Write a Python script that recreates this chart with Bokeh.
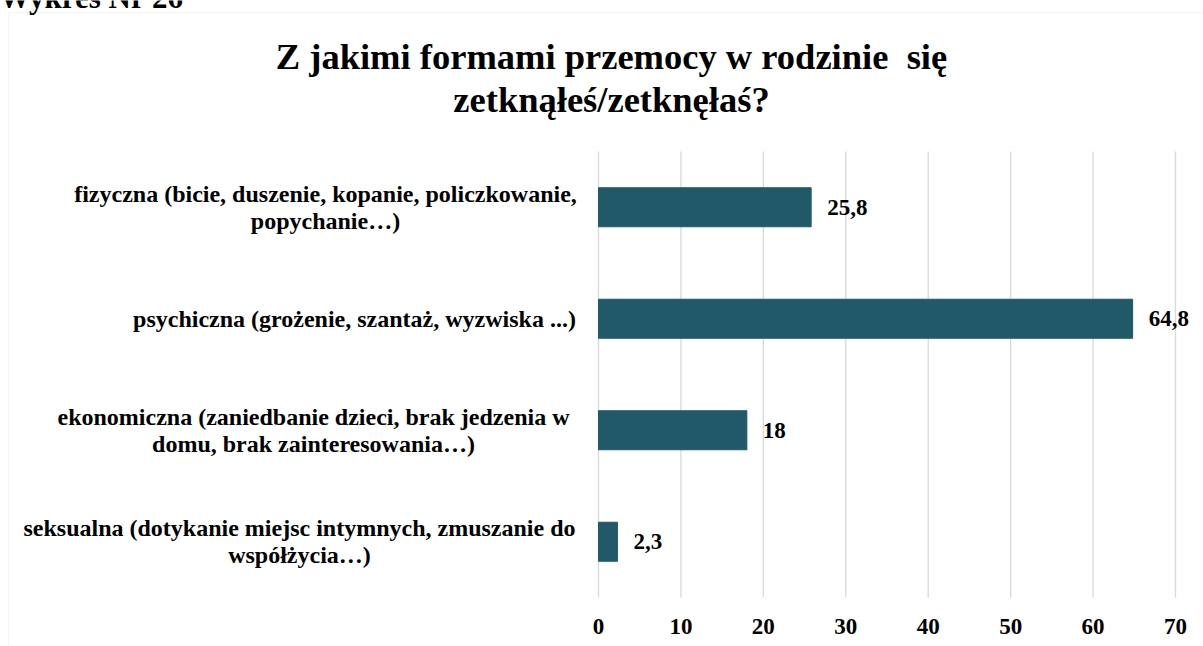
from bokeh.plotting import figure
from bokeh.models import (ColumnDataSource, Range1d, LabelSet, Label,
                          BoxAnnotation, FixedTicker)
from bokeh.embed import file_html
from bokeh.resources import INLINE

# ---------------- data ----------------
categories = [
    "fizyczna (bicie, duszenie, kopanie, policzkowanie,\npopychanie…)",
    "psychiczna (grożenie, szantaż, wyzwiska ...)",
    "ekonomiczna (zaniedbanie dzieci, brak jedzenia w\ndomu, brak zainteresowania…)",
    "seksualna (dotykanie miejsc intymnych, zmuszanie do\nwspółżycia…)",
]
values = [25.8, 64.8, 18.0, 2.3]
x_ticks = [0, 10, 20, 30, 40, 50, 60, 70]
title_lines = ["Z jakimi formami przemocy w rodzinie \u00a0się", "zetknąłeś/zetknęłaś?"]
caption = "Wykres Nr 26"

# ---------------- style / layout ----------------
BAR = "#215968"
GRID = "#d9d9d9"
FONT = "Liberation Serif"
W, H = 1203, 646
ZERO_PX = 598               # canvas x of value 0
PX_PER_UNIT = 577 / 70      # horizontal scale
BASE_PX = 597               # canvas y of the bottom of the category bands
BAND_PX = 111.5             # height of one category band
LINE_PX = 27                # line spacing of wrapped category labels
label_center_offsets = [-273, -244, -285, -299]  # px, centre of each wrapped label block

n = len(categories)
pos = [n - i - 0.5 for i in range(n)]

def fmt(v):
    return ("%g" % v).replace(".", ",")

src = ColumnDataSource(dict(pos=pos, val=values, txt=[fmt(v) for v in values]))

# one entry per wrapped line of the category labels
lt, ly, lx = [], [], []
for c, yc, off in zip(categories, pos, label_center_offsets):
    lines = c.split("\n")
    k = len(lines)
    for j, line in enumerate(lines):
        lt.append(line)
        ly.append(yc - (j - (k - 1) / 2) * LINE_PX / BAND_PX)
        lx.append(off)
lab_src = ColumnDataSource(dict(t=lt, y=ly, xoff=lx, x=[0] * len(lt)))

grid_src = ColumnDataSource(dict(x=x_ticks, y0=[0] * len(x_ticks), y1=[n] * len(x_ticks)))

p = figure(width=W, height=H,
           x_range=Range1d(-ZERO_PX / PX_PER_UNIT, (W - ZERO_PX) / PX_PER_UNIT),
           y_range=Range1d(-(H - BASE_PX) / BAND_PX, BASE_PX / BAND_PX),
           output_backend="svg", toolbar_location=None,
           y_axis_location=None,
           min_border_left=0, min_border_right=0,
           min_border_top=0, min_border_bottom=0)
p.outline_line_color = None
p.background_fill_color = "white"
p.border_fill_color = "white"
p.xgrid.visible = False
p.ygrid.visible = False

# chart-area border
p.add_layout(BoxAnnotation(left=8, right=3000, top=12, bottom=3000,
                           left_units="canvas", right_units="canvas",
                           top_units="canvas", bottom_units="canvas",
                           fill_alpha=0, line_color=GRID, line_width=1,
                           level="underlay"))

# vertical gridlines at the tick values, spanning the category bands
p.segment(x0="x", x1="x", y0="y0", y1="y1", source=grid_src,
          line_color=GRID, line_width=1.3)

p.hbar(y="pos", right="val", left=0, height=0.35, source=src,
       fill_color=BAR, line_color=BAR)

ax = p.xaxis[0]
ax.fixed_location = 0
ax.ticker = FixedTicker(ticks=x_ticks)
ax.axis_line_color = None
ax.major_tick_line_color = None
ax.minor_tick_line_color = None
ax.major_label_standoff = 15
ax.major_label_text_font = FONT
ax.major_label_text_font_style = "bold"
ax.major_label_text_font_size = "23px"
ax.major_label_text_color = "black"

# value labels
p.add_layout(LabelSet(x="val", y="pos", text="txt", source=src, x_offset=16,
                      text_align="left", text_baseline="middle",
                      text_font=FONT, text_font_style="bold",
                      text_font_size="23px", text_color="black"))

# category labels (wrapped, each line centred)
p.add_layout(LabelSet(x="x", y="y", text="t", source=lab_src, x_offset="xoff",
                      text_align="center", text_baseline="middle",
                      text_font=FONT, text_font_style="bold",
                      text_font_size="24px", text_color="black"))

# titles
for t, yy in zip(title_lines, [56, 99]):
    p.add_layout(Label(x=611, y=yy, x_units="canvas", y_units="canvas", text=t,
                       text_align="center", text_baseline="middle",
                       text_font=FONT, text_font_style="bold",
                       text_font_size="36.5px", text_color="black"))

p.add_layout(Label(x=183, y=-3, x_units="canvas", y_units="canvas", text=caption,
                   text_align="right", text_baseline="alphabetic",
                   text_font=FONT, text_font_style="bold",
                   text_font_size="31px", text_color="black"))

open("out.html", "w").write(file_html(p, INLINE))
